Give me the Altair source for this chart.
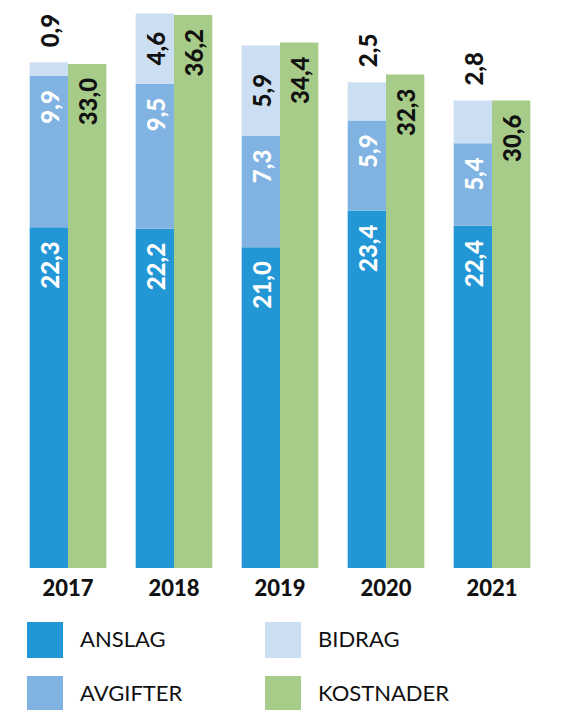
import altair as alt
import pandas as pd

years = ["2017", "2018", "2019", "2020", "2021"]
anslag = [22.3, 22.2, 21.0, 23.4, 22.4]
avgifter = [9.9, 9.5, 7.3, 5.9, 5.4]
bidrag = [0.9, 4.6, 5.9, 2.5, 2.8]
kostnader = [33.0, 36.2, 34.4, 32.3, 30.6]

series_order = ["ANSLAG", "AVGIFTER", "BIDRAG", "KOSTNADER"]
colors = ["#2397D5", "#80B3E2", "#CCDEF2", "#A7CB88"]

rows = []
for i, yr in enumerate(years):
    base = 0.0
    for name, vals in [("ANSLAG", anslag), ("AVGIFTER", avgifter), ("BIDRAG", bidrag)]:
        v = vals[i]
        rows.append(dict(year=yr, serie=name, grp="a", value=v, y0=base, y1=base + v,
                         ym=base + v / 2, label=f"{v:.1f}".replace(".", ",")))
        base += v
    v = kostnader[i]
    rows.append(dict(year=yr, serie="KOSTNADER", grp="b", value=v, y0=0.0, y1=v,
                     ym=v / 2, label=f"{v:.1f}".replace(".", ",")))
df = pd.DataFrame(rows)

x_enc = alt.X("year:N", title=None, sort=years,
              scale=alt.Scale(paddingInner=0.277, paddingOuter=0.1385),
              axis=alt.Axis(labelAngle=0, ticks=False, domain=False, labelFont="Lato",
                            labelFontSize=22, labelFontWeight=900, labelColor="#111111",
                            labelPadding=10))
xo_enc = alt.XOffset("grp:N", scale=alt.Scale(paddingInner=0, paddingOuter=0))
y_scale = alt.Scale(domain=[0, 36.2], nice=False, zero=True)

base = alt.Chart(df)

bars = base.mark_bar(stroke=None).encode(
    x=x_enc, xOffset=xo_enc,
    y=alt.Y("y1:Q", scale=y_scale, axis=None),
    y2="y0:Q",
    color=alt.Color("serie:N", scale=alt.Scale(domain=series_order, range=colors),
                    legend=alt.Legend(orient="none", legendX=12, legendY=607, columns=2,
                                      symbolType="square", symbolSize=1296, symbolStrokeWidth=0,
                                      symbolOpacity=1, labelFont="Lato", labelFontSize=22,
                                      labelColor="#111111", labelOffset=17, title=None,
                                      columnPadding=82, rowPadding=18, padding=0)),
)

txt_common = dict(font="Lato", fontSize=24, fontWeight=900, angle=270, baseline="middle", dy=3)

inner_top = base.transform_filter(
    "datum.serie != 'BIDRAG'"
).mark_text(align="right", dx=-14, **txt_common).encode(
    x=x_enc, xOffset=xo_enc, y=alt.Y("y1:Q", scale=y_scale),
    text="label:N",
    color=alt.condition("datum.serie == 'KOSTNADER'", alt.value("#111111"), alt.value("white")),
)

bidrag_in = base.transform_filter(
    "datum.serie == 'BIDRAG' && datum.value > 4"
).mark_text(align="center", color="#111111", **txt_common).encode(
    x=x_enc, xOffset=xo_enc, y=alt.Y("ym:Q", scale=y_scale), text="label:N",
)

bidrag_out = base.transform_filter(
    "datum.serie == 'BIDRAG' && datum.value <= 4"
).mark_text(align="left", dx=15, color="#111111", **txt_common).encode(
    x=x_enc, xOffset=xo_enc, y=alt.Y("y1:Q", scale=y_scale), text="label:N",
)

chart = alt.layer(bars, inner_top, bidrag_in, bidrag_out).properties(
    width=530, height=553,
    padding={"left": 7, "top": 5, "right": 5, "bottom": 0},
).configure_view(stroke=None)

chart.save("out.html", embed_options={"renderer": "svg", "actions": False})
